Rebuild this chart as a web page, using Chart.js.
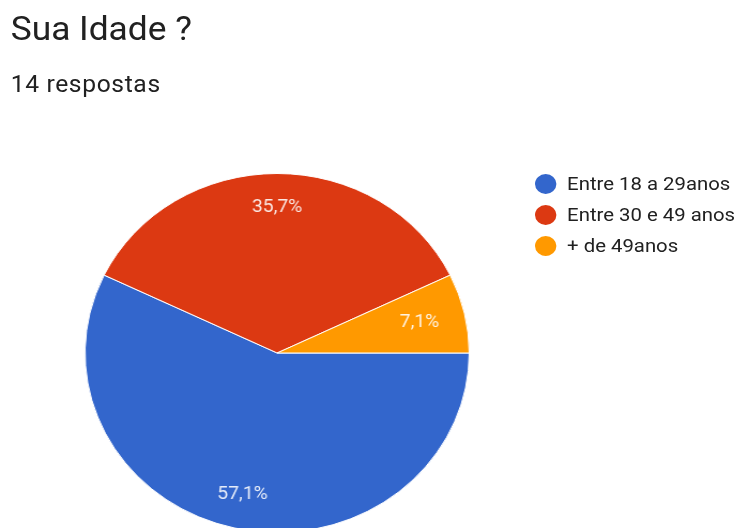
<!DOCTYPE html>
<html>
<head>
<meta charset="utf-8">
<script src="https://cdn.jsdelivr.net/npm/chart.js@4/dist/chart.umd.min.js"></script>
<style>
    html, body { margin: 0; padding: 0; background: #fff; overflow: hidden; }
    body { width: 744px; height: 528px; position: relative; font-family: Roboto, "Noto Sans", sans-serif; }
    #page { position: absolute; left: 0; top: 0; width: 695px; height: 528px; transform: scaleX(1.07); transform-origin: 0 0; }
    #title { position: absolute; left: 10px; top: 9px; font-size: 33px; color: #212121; white-space: nowrap; }
    #subtitle { position: absolute; left: 10px; top: 71px; font-size: 23px; color: #212121; letter-spacing: 0.6px; white-space: nowrap; }
    #chartBox { position: absolute; left: 79px; top: 173px; width: 360px; height: 360px; }
    #legend { position: absolute; left: 500px; top: 168px; }
    .legendItem { display: flex; align-items: center; height: 31px; font-size: 19px; color: #212121; white-space: nowrap; }
    .legendDot { width: 20px; height: 20px; border-radius: 50%; margin-right: 10px; }
</style>
</head>
<body>
<div id="page">
    <div id="title">Sua Idade ?</div>
    <div id="subtitle">14 respostas</div>
    <div id="chartBox"><canvas id="myChart" width="360" height="360"></canvas></div>
    <div id="legend"></div>
</div>
<script>
    const faixas = ["Entre 18 a 29anos", "Entre 30 e 49 anos", "+ de 49anos"]
    const respostas = [8, 5, 1]
    const cores = ["#3366cc", "#dc3912", "#ff9900"]

    const total = respostas.reduce((a, b) => a + b, 0)

    // legend on the right, built from the same lists
    const legend = document.getElementById("legend")
    faixas.forEach((nome, i) => {
        legend.innerHTML += `<div class="legendItem"><span class="legendDot" style="background:${cores[i]}"></span>${nome}</div>`
    })

    // percent text inside each slice
    const sliceLabels = {
        id: "sliceLabels",
        afterDatasetsDraw(chart) {
            const ctx = chart.ctx
            const meta = chart.getDatasetMeta(0)
            ctx.save()
            ctx.font = "18px Roboto"
            ctx.fillStyle = "rgba(255,255,255,0.88)"
            ctx.textAlign = "center"
            ctx.textBaseline = "middle"
            meta.data.forEach((arc, i) => {
                const p = arc.getProps(["x", "y", "startAngle", "endAngle", "outerRadius"], true)
                const mid = (p.startAngle + p.endAngle) / 2
                const r = p.outerRadius * (respostas[i] / total < 0.1 ? 0.76 : 0.81)
                const pct = (respostas[i] / total * 100).toFixed(1).replace(".", ",") + "%"
                ctx.fillText(pct, p.x + Math.cos(mid) * r, p.y + Math.sin(mid) * r)
            })
            ctx.restore()
        }
    }

    new Chart(document.getElementById("myChart"), {
        type: "pie",
        data: {
            labels: faixas,
            datasets: [{
                data: respostas,
                backgroundColor: cores,
                borderColor: "#ffffff",
                borderWidth: 1
            }]
        },
        options: {
            responsive: false,
            animation: false,
            rotation: 90,
            layout: { padding: 0 },
            plugins: {
                legend: { display: false },
                tooltip: { enabled: false }
            }
        },
        plugins: [sliceLabels]
    })
</script>
</body>
</html>
